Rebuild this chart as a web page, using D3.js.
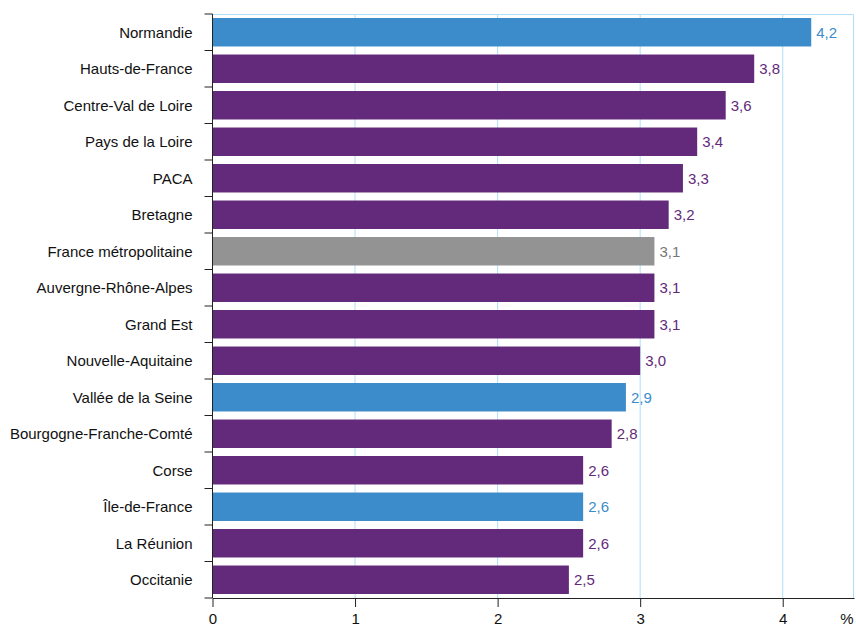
<!DOCTYPE html>
<meta charset="utf-8">
<style>
  body { margin: 0; background: #fff; }
  svg text { font-family: "Liberation Sans", Arial, sans-serif; }
</style>
<svg width="856" height="626"></svg>
<script src="https://cdn.jsdelivr.net/npm/d3@7"></script>
<script>
  // données
  var regions = ["Normandie", "Hauts-de-France", "Centre-Val de Loire", "Pays de la Loire", "PACA",
    "Bretagne", "France métropolitaine", "Auvergne-Rhône-Alpes", "Grand Est", "Nouvelle-Aquitaine",
    "Vallée de la Seine", "Bourgogne-Franche-Comté", "Corse", "Île-de-France", "La Réunion", "Occitanie"];
  var values = [4.2, 3.8, 3.6, 3.4, 3.3, 3.2, 3.1, 3.1, 3.1, 3.0, 2.9, 2.8, 2.6, 2.6, 2.6, 2.5];
  var kinds = ["seine", "region", "region", "region", "region", "region", "france", "region", "region",
    "region", "seine", "region", "region", "seine", "region", "region"];
  var xTicks = [0, 1, 2, 3, 4];

  var barColor = {seine: "#3c8ccb", region: "#63297a", france: "#939393"};
  var textColor = {seine: "#3c8ccb", region: "#63297a", france: "#777777"};

  var svg = d3.select("svg");
  var margin = {top: 14, right: 2, bottom: 28, left: 212.5};
  var width = +svg.attr("width") - margin.left - margin.right;
  var height = +svg.attr("height") - margin.top - margin.bottom;

  var g = svg.append("g").attr("transform", "translate(" + margin.left + "," + margin.top + ")");

  var x = d3.scaleLinear().domain([0, 4.5]).range([0, width]);
  var y = d3.scaleBand().domain(regions).range([0, height]).paddingInner(0.22).paddingOuter(0.11);

  var data = regions.map(function(r, i) { return {name: r, value: values[i], kind: kinds[i]}; });

  // grille
  g.append("g")
    .selectAll("line")
    .data(xTicks.slice(1))
    .enter().append("line")
      .attr("x1", function(d) { return x(d); })
      .attr("x2", function(d) { return x(d); })
      .attr("y1", 0)
      .attr("y2", height)
      .attr("stroke", "#ade0f7")
      .attr("stroke-width", 1);

  // cadre haut / droite
  g.append("path")
    .attr("d", "M0,0.5H" + (width - 0.5) + "V" + height)
    .attr("fill", "none")
    .attr("stroke", "#ade0f7");

  // barres
  g.append("g")
    .selectAll("rect")
    .data(data)
    .enter().append("rect")
      .attr("x", 0)
      .attr("y", function(d) { return y(d.name); })
      .attr("width", function(d) { return x(d.value); })
      .attr("height", y.bandwidth())
      .attr("fill", function(d) { return barColor[d.kind]; });

  // valeurs
  g.append("g")
    .selectAll("text")
    .data(data)
    .enter().append("text")
      .attr("x", function(d) { return x(d.value) + 5; })
      .attr("y", function(d) { return y(d.name) + y.bandwidth() / 2; })
      .attr("dy", "0.36em")
      .attr("font-size", 15)
      .attr("fill", function(d) { return textColor[d.kind]; })
      .text(function(d) { return d3.format(".1f")(d.value).replace(".", ","); });

  // axe Y (ticks aux limites des catégories)
  var yAxis = g.append("g").attr("class", "axisY");
  yAxis.append("line")
    .attr("x1", 0).attr("x2", 0).attr("y1", 0).attr("y2", height)
    .attr("stroke", "#222");
  var bounds = d3.range(regions.length + 1).map(function(i) { return i * height / regions.length; });
  yAxis.selectAll(".tk")
    .data(bounds)
    .enter().append("line")
      .attr("class", "tk")
      .attr("x1", -8).attr("x2", 0)
      .attr("y1", function(d) { return d; })
      .attr("y2", function(d) { return d; })
      .attr("stroke", "#222");
  yAxis.selectAll("text")
    .data(data)
    .enter().append("text")
      .attr("x", -20)
      .attr("y", function(d) { return y(d.name) + y.bandwidth() / 2; })
      .attr("dy", "0.36em")
      .attr("text-anchor", "end")
      .attr("font-size", 15)
      .attr("fill", "#111")
      .text(function(d) { return d.name; });

  // axe X
  var xAxis = g.append("g")
    .attr("transform", "translate(0," + height + ")")
    .call(d3.axisBottom(x).tickValues(xTicks).tickSize(9).tickSizeOuter(0).tickPadding(6)
      .tickFormat(d3.format("d")));
  xAxis.select(".domain").attr("stroke", "#222");
  xAxis.selectAll(".tick line").attr("stroke", "#222");
  xAxis.selectAll(".tick text").attr("font-size", 15).attr("fill", "#111")
    .attr("font-family", "Liberation Sans, Arial, sans-serif");
  xAxis.append("text")
    .attr("x", x(4.45))
    .attr("y", 15)
    .attr("dy", "0.71em")
    .attr("text-anchor", "middle")
    .attr("font-size", 15)
    .attr("fill", "#111")
    .text("%");
</script>
